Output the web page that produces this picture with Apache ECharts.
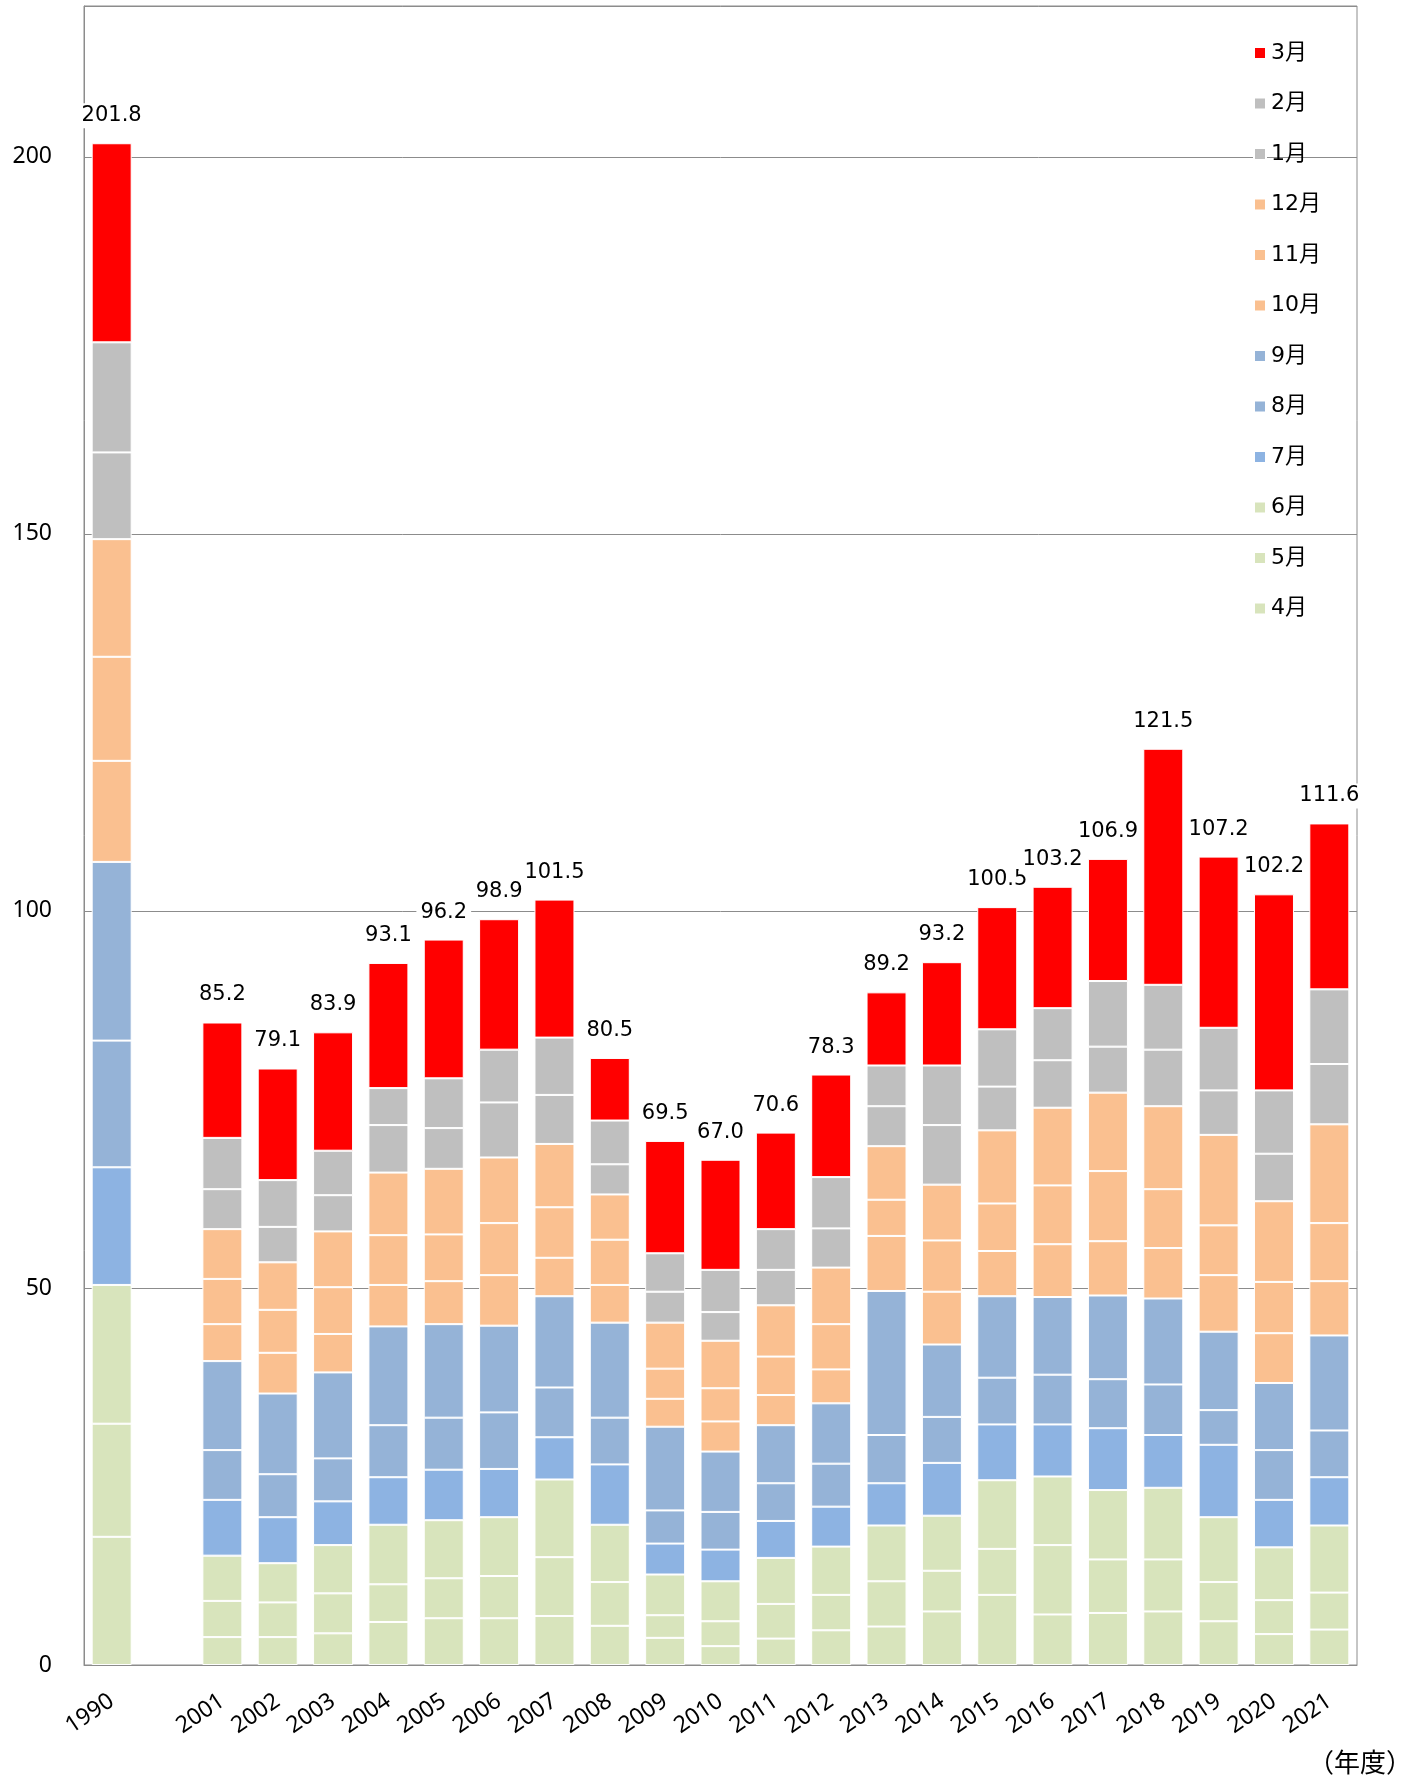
<!DOCTYPE html>
<html>
<head>
<meta charset="utf-8">
<script src="https://cdn.jsdelivr.net/npm/echarts@6/dist/echarts.min.js"></script>
<style>
  html, body { margin: 0; padding: 0; background: #fff; }
  #chart { width: 1418px; height: 1775px; }
</style>
</head>
<body>
<div id="chart"></div>
<script>
// categories: 1990, one empty slot, then 2001-2021
const years = ["1990", "", "2001", "2002", "2003", "2004", "2005", "2006", "2007", "2008", "2009", "2010",
  "2011", "2012", "2013", "2014", "2015", "2016", "2017", "2018", "2019", "2020", "2021"];

const apr = [17.0, null, 3.7, 3.7, 4.2, 5.7, 6.2, 6.2, 6.5, 5.2, 3.6, 2.5, 3.5, 4.6, 5.1, 7.1, 9.3, 6.7, 6.9, 7.1, 5.8, 4.1, 4.7];
const may = [15.0, null, 4.8, 4.6, 5.3, 5.0, 5.3, 5.6, 7.8, 5.8, 3.0, 3.3, 4.6, 4.7, 6.0, 5.4, 6.1, 9.2, 7.1, 6.9, 5.2, 4.5, 4.9];
const jun = [18.4, null, 6.0, 5.2, 6.4, 7.9, 7.7, 7.8, 10.3, 7.6, 5.4, 5.3, 6.1, 6.4, 7.4, 7.3, 9.1, 9.1, 9.2, 9.5, 8.6, 7.0, 8.9];
const jul = [15.6, null, 7.4, 6.1, 5.8, 6.3, 6.7, 6.4, 5.6, 8.0, 4.1, 4.2, 4.9, 5.3, 5.6, 7.0, 7.4, 6.9, 8.2, 7.0, 9.6, 6.3, 6.4];
const aug = [16.8, null, 6.6, 5.7, 5.7, 6.9, 6.9, 7.5, 6.6, 6.2, 4.4, 5.0, 5.0, 5.7, 6.4, 6.1, 6.2, 6.6, 6.5, 6.7, 4.6, 6.6, 6.2];
const sep = [23.7, null, 11.8, 10.7, 11.4, 13.1, 12.4, 11.5, 12.1, 12.6, 11.1, 8.0, 7.7, 8.0, 19.1, 9.6, 10.8, 10.3, 11.1, 11.4, 10.4, 8.9, 12.6];
const oct = [13.4, null, 4.9, 5.4, 5.1, 5.5, 5.7, 6.7, 5.1, 5.0, 3.7, 4.0, 4.0, 4.5, 7.3, 7.0, 6.0, 7.0, 7.2, 6.7, 7.5, 6.6, 7.2];
const nov = [13.8, null, 6.0, 5.7, 6.2, 6.6, 6.2, 6.9, 6.7, 6.0, 4.0, 4.4, 5.1, 6.0, 4.8, 6.8, 6.3, 7.8, 9.3, 7.8, 6.6, 6.8, 7.7];
const dec = [15.6, null, 6.6, 6.3, 7.4, 8.3, 8.7, 8.7, 8.4, 6.0, 6.1, 6.3, 6.8, 7.5, 7.1, 7.4, 9.7, 10.3, 10.4, 11.0, 12.0, 10.7, 13.1];
const jan = [11.5, null, 5.3, 4.7, 4.8, 6.3, 5.4, 7.3, 6.5, 4.0, 4.1, 3.8, 4.7, 5.2, 5.3, 7.9, 5.8, 6.3, 6.1, 7.5, 5.9, 6.3, 8.0];
const feb = [14.6, null, 6.8, 6.2, 5.9, 4.9, 6.6, 7.0, 7.6, 5.8, 5.1, 5.6, 5.4, 6.8, 5.4, 7.9, 7.6, 6.9, 8.7, 8.6, 8.3, 8.4, 9.9];
const mar = [26.4, null, 15.3, 14.8, 15.7, 16.6, 18.4, 17.3, 18.3, 8.3, 14.9, 14.6, 12.8, 13.6, 9.7, 13.7, 16.2, 16.1, 16.2, 31.3, 22.7, 26.0, 22.0];

// totals printed above each bar
const totals = ["201.8", "", "85.2", "79.1", "83.9", "93.1", "96.2", "98.9", "101.5", "80.5", "69.5", "67.0",
  "70.6", "78.3", "89.2", "93.2", "100.5", "103.2", "106.9", "121.5", "107.2", "102.2", "111.6"];

const yTicks = [0, 50, 100, 150, 200];

const months = [
  { name: "4月", data: apr, color: "#d8e4bc" },
  { name: "5月", data: may, color: "#d8e4bc" },
  { name: "6月", data: jun, color: "#d8e4bc" },
  { name: "7月", data: jul, color: "#8db3e2" },
  { name: "8月", data: aug, color: "#95b3d7" },
  { name: "9月", data: sep, color: "#95b3d7" },
  { name: "10月", data: oct, color: "#fac090" },
  { name: "11月", data: nov, color: "#fac090" },
  { name: "12月", data: dec, color: "#fac090" },
  { name: "1月", data: jan, color: "#bfbfbf" },
  { name: "2月", data: feb, color: "#bfbfbf" },
  { name: "3月", data: mar, color: "#ff0000" },
];

const font = "'Noto Sans', 'Noto Sans CJK JP', sans-serif";
const wideFont = "'DejaVu Sans', 'Noto Sans CJK JP', sans-serif";

const series = months.map((m, i) => {
  const s = {
    name: m.name,
    type: "bar",
    stack: "total",
    barWidth: 40,
    data: m.data,
    itemStyle: { color: m.color, borderColor: "#fff", borderWidth: 1 },
  };
  if (i === months.length - 1) {
    s.label = {
      show: true,
      position: "top",
      distance: 15,
      formatter: (p) => totals[p.dataIndex],
      fontSize: 21,
      fontFamily: wideFont,
      color: "#000",
      backgroundColor: "#fff",
      padding: [2, 4],
    };
  }
  return s;
});

const chart = echarts.init(document.getElementById("chart"));
chart.setOption({
  animation: false,
  textStyle: { fontFamily: font },
  grid: { left: 84, right: 61, top: 6, bottom: 110, show: true, borderColor: "#8c8c8c", borderWidth: 1 },
  legend: {
    data: months.map((m) => m.name).reverse(),
    orient: "vertical",
    left: 1248,
    top: 36,
    icon: "rect",
    itemWidth: 12,
    itemHeight: 12,
    itemGap: 26.5,
    textStyle: { fontSize: 22, color: "#000", fontFamily: wideFont, lineHeight: 24 },
  },
  xAxis: {
    type: "category",
    data: years,
    axisLine: { lineStyle: { color: "#8c8c8c" } },
    axisTick: { show: false },
    axisLabel: { interval: 0, rotate: 34, fontSize: 23, color: "#000", margin: 34, fontFamily: font },
  },
  yAxis: {
    type: "value",
    min: 0,
    max: 220,
    interval: 50,
    axisLine: { show: true, lineStyle: { color: "#8c8c8c" } },
    axisTick: { show: false },
    axisLabel: {
      fontSize: 23,
      color: "#000",
      margin: 32,
      fontFamily: font,
      formatter: (v) => (yTicks.includes(v) ? String(v) : ""),
    },
    splitLine: { lineStyle: { color: "#8c8c8c", width: 1 } },
  },
  graphic: [
    {
      type: "text",
      x: 1412,
      y: 1762,
      style: {
        text: "（年度）",
        fill: "#000",
        font: "26px 'Noto Sans CJK JP', sans-serif",
        align: "right",
        verticalAlign: "middle",
      },
    },
  ],
  series,
});
</script>
</body>
</html>
